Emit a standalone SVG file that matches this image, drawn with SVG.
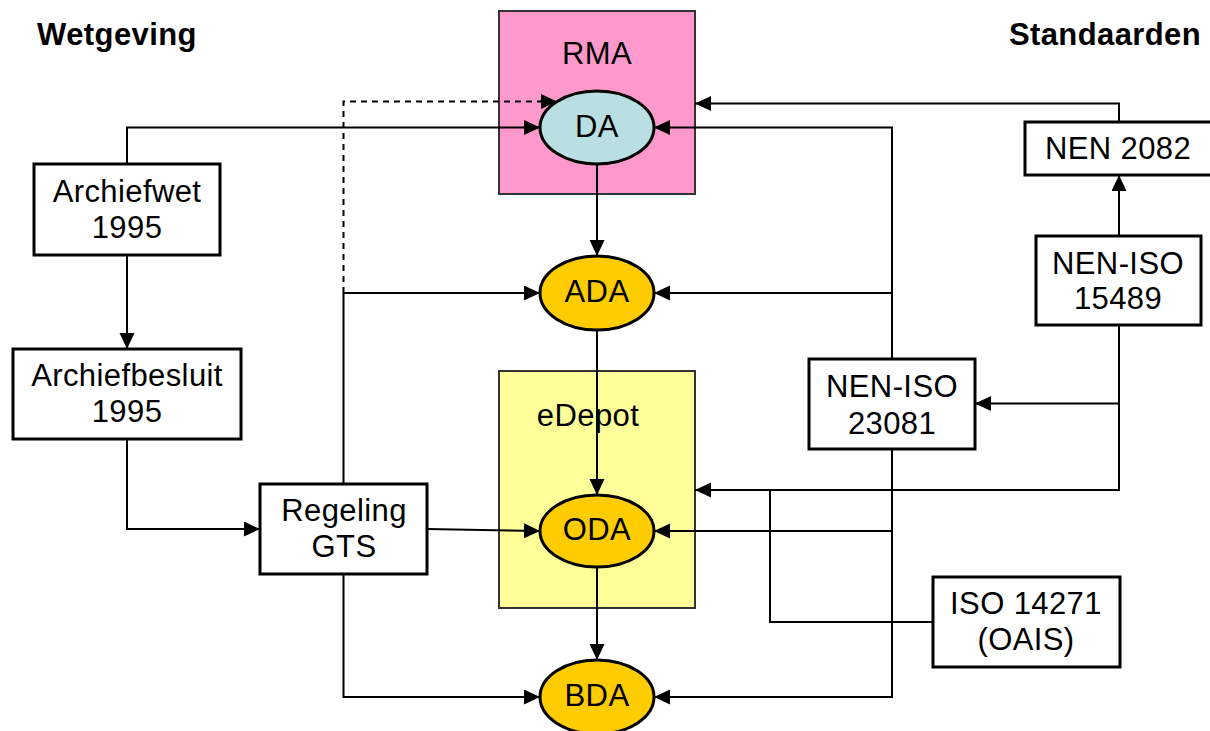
<svg xmlns="http://www.w3.org/2000/svg" width="1210" height="731" viewBox="0 0 1210 731">
<defs>
<marker id="arr" markerUnits="userSpaceOnUse" markerWidth="17" markerHeight="16" refX="16" refY="7.5" orient="auto">
<path d="M0,0 L16,7.5 L0,15 z" fill="#000"/>
</marker>
<style>
text{font-family:"Liberation Sans",Arial,sans-serif;font-size:31px;letter-spacing:0.4px;fill:#000;text-anchor:middle}
.h{font-weight:bold}
.box{fill:#fff;stroke:#000;stroke-width:3}
.cont{stroke:#333;stroke-width:2}
.ell{stroke:#000;stroke-width:3}
.c{fill:none;stroke:#000;stroke-width:2;marker-end:url(#arr)}
.l{fill:none;stroke:#000;stroke-width:2}
.d{stroke-dasharray:6,5}
</style>
</defs>
<rect width="1210" height="731" fill="#fff"/>
<text class="h" x="117" y="45">Wetgeving</text>
<text class="h" x="1105" y="45">Standaarden</text>
<g id="RMA">
<rect class="cont" x="499" y="11" width="196" height="183" fill="#FF99CC"/>
<text x="597" y="64">RMA</text>
</g>
<g id="eDepot">
<rect class="cont" x="499" y="371" width="196" height="237" fill="#FFFF99"/>
<text x="588" y="426">eDepot</text>
</g>
<g id="connectors">
<path class="c" d="M127,164 V127.5 H540"/>
<path class="c" d="M127,255 V349"/>
<path class="c" d="M127,439 V529 H260"/>
<path class="c" d="M343.5,484 V293 H540"/>
<path class="c d" d="M343.5,293 V101.5 H557"/>
<path class="c" d="M427,529 L540,531"/>
<path class="c" d="M343.5,574 V697 H540"/>
<path class="c" d="M597,164 V256"/>
<path class="c" d="M597,330 V495"/>
<path class="c" d="M597,567 V660"/>
<path class="c" d="M1119,122 V103.5 H695"/>
<path class="c" d="M1119,236 V175"/>
<path class="c" d="M1119,325 V403.5 H975"/>
<path class="c" d="M1119,403.5 V490 H695"/>
<path class="l" d="M933,622 H770 V490"/>
<path class="c" d="M892,359 V127.5 H654"/>
<path class="c" d="M892,293 H654"/>
<path class="c" d="M892,449 V531 H654"/>
<path class="c" d="M892,531 V697 H654"/>
</g>
<g id="DA">
<ellipse class="ell" cx="597" cy="127.5" rx="57" ry="36.5" fill="#B9DFE2"/>
<text x="597" y="137">DA</text>
</g>
<g id="ADA">
<ellipse class="ell" cx="597" cy="293" rx="57" ry="37" fill="#FFCC00"/>
<text x="597" y="302">ADA</text>
</g>
<g id="ODA">
<ellipse class="ell" cx="597" cy="531" rx="57" ry="36" fill="#FFCC00"/>
<text x="597" y="540">ODA</text>
</g>
<g id="BDA">
<ellipse class="ell" cx="597" cy="697" rx="57" ry="37" fill="#FFCC00"/>
<text x="597" y="706">BDA</text>
</g>
<g id="Archiefwet">
<rect class="box" x="34" y="164" width="186" height="91"/>
<text x="127" y="202">Archiefwet</text>
<text x="127" y="238">1995</text>
</g>
<g id="Archiefbesluit">
<rect class="box" x="13" y="349" width="228" height="90"/>
<text x="127" y="386">Archiefbesluit</text>
<text x="127" y="422">1995</text>
</g>
<g id="RegelingGTS">
<rect class="box" x="260" y="484" width="167" height="90"/>
<text x="344" y="521">Regeling</text>
<text x="344" y="557">GTS</text>
</g>
<g id="NEN2082">
<rect class="box" x="1025" y="122" width="195" height="53"/>
<text x="1118" y="159">NEN 2082</text>
</g>
<g id="NENISO15489">
<rect class="box" x="1036" y="236" width="165" height="89"/>
<text x="1118" y="274">NEN-ISO</text>
<text x="1118" y="309">15489</text>
</g>
<g id="NENISO23081">
<rect class="box" x="809" y="359" width="166" height="90"/>
<text x="892" y="397">NEN-ISO</text>
<text x="892" y="434">23081</text>
</g>
<g id="ISO14271">
<rect class="box" x="933" y="577" width="187" height="90"/>
<text x="1026" y="614">ISO 14271</text>
<text x="1026" y="650">(OAIS)</text>
</g>
</svg>
